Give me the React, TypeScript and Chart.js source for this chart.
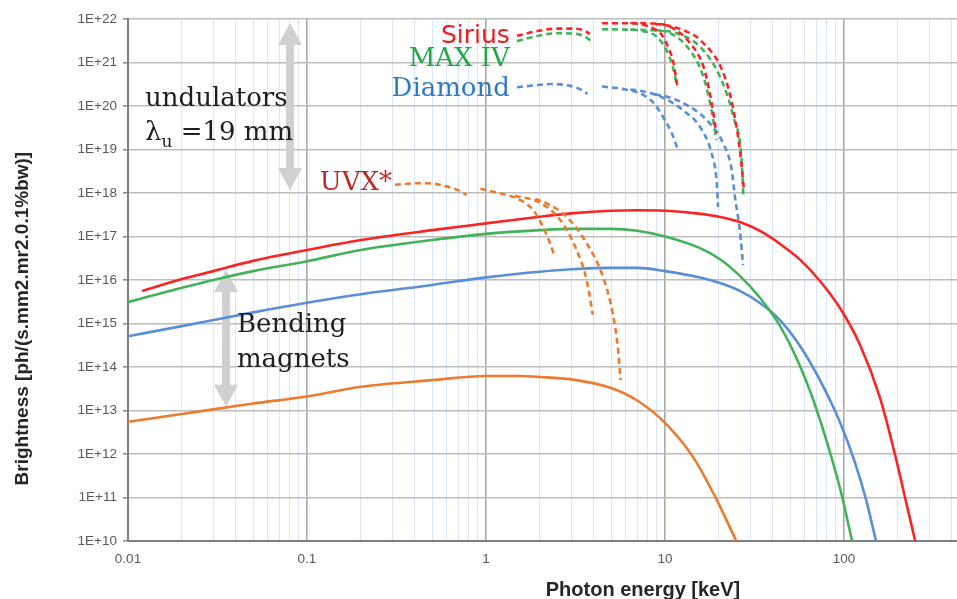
import React, { useEffect, useRef } from 'react';
import { Chart, registerables } from 'chart.js';

Chart.register(...registerables);

type Pt = [number, number];

// ---- Bending-magnet brightness (solid) : [photon energy keV, brightness] ----
const siriusBM: Pt[] = [
  [0.012, 5.6e15], [0.02, 1.05e16], [0.03, 1.6e16], [0.05, 2.75e16], [0.1, 4.9e16], [0.2, 8.3e16],
  [0.5, 1.4e17], [1, 2e17], [2, 2.85e17], [3, 3.4e17], [5, 3.9e17], [7, 4e17], [10, 3.9e17],
  [15, 3.4e17], [20, 2.85e17], [26.2, 2.15e17], [34, 1.34e17], [44, 6.7e16], [57, 2.9e16],
  [73.4, 9.5e15], [95, 2.27e15], [123, 3.2e14], [159, 1.94e13], [193, 9.5e11], [219, 1.03e11], [250, 1e10],
];
const maxivBM: Pt[] = [
  [0.01, 3.1e15], [0.02, 6.6e15], [0.03, 1e16], [0.05, 1.6e16], [0.1, 2.7e16], [0.2, 4.9e16],
  [0.5, 8.3e16], [1, 1.15e17], [2, 1.4e17], [3, 1.5e17], [5, 1.5e17], [7, 1.35e17], [10, 1e17],
  [15.7, 5.4e16], [20.3, 3e16], [26.2, 1.24e16], [33.9, 3.9e15], [43.9, 8.8e14], [56.8, 1.05e14],
  [68.9, 1.34e13], [83.5, 1.1e12], [97.4, 1.08e11], [111, 1e10],
];
const diamondBM: Pt[] = [
  [0.01, 5.1e14], [0.02, 8.7e14], [0.05, 1.8e15], [0.1, 3e15], [0.2, 4.7e15], [0.5, 7.7e15],
  [1, 1.15e16], [2, 1.55e16], [3, 1.76e16], [5, 1.9e16], [7, 1.9e16], [10, 1.6e16], [15.7, 1.14e16],
  [20.3, 8.5e15], [26.2, 5.6e15], [33.9, 2.96e15], [43.9, 1.2e15], [56.8, 3.04e14], [73.4, 5e13],
  [95, 5.4e12], [115, 6.5e11], [133, 8.8e10], [151, 1e10],
];
const uvxBM: Pt[] = [
  [0.01, 5.5e12], [0.02, 8.3e12], [0.05, 1.45e13], [0.1, 2.1e13], [0.2, 3.5e13], [0.5, 5e13],
  [1, 6.2e13], [1.5, 6.2e13], [2, 5.9e13], [3, 5.2e13], [5, 3.3e13], [7, 1.7e13], [10, 5.2e12],
  [14.3, 8.7e11], [19.5, 8.7e10], [25, 1e10],
];

// ---- Undulator tuning curves (dashed) ----
const siriusUndA: Pt[] = [[1.49, 4.1e21], [1.9, 5.2e21], [2.5, 6e21], [3.1, 6e21], [3.55, 5.4e21], [3.8, 4.5e21]];
const siriusUndB1: Pt[] = [[4.45, 8e21], [6, 8e21], [7.25, 7.6e21], [8.6, 6.1e21], [9.6, 4.3e21], [10.4, 2.3e21], [11.05, 1.15e21], [11.5, 4.7e20], [11.7, 3e20]];
const siriusUndB2: Pt[] = [[6.4, 8.1e21], [8.5, 7.9e21], [10.7, 6.6e21], [13.8, 2.8e21], [16.4, 8e20], [17.8, 2e20], [19, 4e19], [19.3, 2.4e19]];
const siriusUndB3: Pt[] = [[8.8, 7.7e21], [10.2, 7.2e21], [13, 5.3e21], [15.7, 3.3e21], [21.1, 6e20], [24, 9e19], [26.2, 9.8e18], [27.6, 1.2e18]];

const maxivUndA: Pt[] = [[1.49, 3.1e21], [1.9, 4e21], [2.5, 4.7e21], [3.1, 4.6e21], [3.55, 4e21], [3.9, 3e21]];
const maxivUndB1: Pt[] = [[4.45, 5.8e21], [6, 5.7e21], [7.25, 5.4e21], [9, 3.9e21], [10.2, 1.9e21], [11.05, 8e20], [11.6, 3.3e20]];
const maxivUndB2: Pt[] = [[6.4, 5.7e21], [8.5, 5.5e21], [10.7, 4.7e21], [13.8, 1.9e21], [16.4, 4.7e20], [18.2, 8e19], [19.4, 1.65e19]];
const maxivUndB3: Pt[] = [[8.8, 5.6e21], [11.6, 4.7e21], [15.7, 2.3e21], [20.3, 4.7e20], [24.1, 5.7e19], [26.8, 5.7e18], [27.4, 8.2e17]];

const diamondUndA: Pt[] = [[1.49, 2.7e20], [1.88, 3e20], [2.37, 3.2e20], [2.95, 2.9e20], [3.35, 2.45e20], [3.7, 1.9e20]];
const diamondUndB1: Pt[] = [[4.45, 2.8e20], [6, 2.4e20], [7.25, 1.95e20], [8.6, 1.2e20], [9.75, 5.6e19], [10.9, 2.4e19], [11.7, 1.1e19]];
const diamondUndB2: Pt[] = [[6.4, 2.4e20], [7.25, 2.25e20], [9.75, 1.55e20], [12.6, 8e19], [15.7, 3.3e19], [18.2, 8.3e18], [19.4, 2e18], [19.8, 4.8e17]];
const diamondUndB3: Pt[] = [[8.8, 1.85e20], [10.2, 1.65e20], [13.8, 9.6e19], [17.8, 4e19], [21.1, 1.4e19], [23.6, 3.4e18], [24.6, 8e17], [26.2, 1.4e17], [27.3, 2.2e16]];

const uvxUndA: Pt[] = [[0.31, 1.55e18], [0.43, 1.68e18], [0.5, 1.65e18], [0.6, 1.42e18], [0.7, 1.15e18], [0.78, 9e17]];
const uvxUndB1: Pt[] = [[0.93, 1.25e18], [1.2, 9.8e17], [1.49, 7.5e17], [1.83, 4.1e17], [2.08, 1.7e17], [2.28, 7e16], [2.4, 3.8e16]];
const uvxUndB2: Pt[] = [[1.45, 8.6e17], [2, 6e17], [2.6, 2.4e17], [3.2, 5e16], [3.65, 1e16], [3.95, 1.6e15]];
const uvxUndB3: Pt[] = [[1.88, 7.3e17], [2.18, 5.8e17], [2.82, 2.85e17], [3.65, 7e16], [4.5, 1.2e16], [5.1, 1.75e15], [5.45, 2.9e14], [5.65, 5e13]];

// ---- Axes ----
const xDecades = [0.01, 0.1, 1, 10, 100];
const xTickLabels = ['0.01', '0.1', '1', '10', '100'];
const yDecades = [1e10, 1e11, 1e12, 1e13, 1e14, 1e15, 1e16, 1e17, 1e18, 1e19, 1e20, 1e21, 1e22];
const yTickLabels = ['1E+10', '1E+11', '1E+12', '1E+13', '1E+14', '1E+15', '1E+16', '1E+17', '1E+18', '1E+19', '1E+20', '1E+21', '1E+22'];
const X_MIN = 0.01;
const X_MAX = 428;
const Y_MIN = 1e10;
const Y_MAX = 1e22;
const xTitle = 'Photon energy [keV]';
const yTitle = 'Brightness [ph/(s.mm2.mr2.0.1%bw)]';

// ---- Styles ----
const RED = '#fb2424';
const GREEN = '#42b35b';
const BLUE = '#5a8ed6';
const ORANGE = '#eb7b2e';
const SERIF = '"DejaVu Serif", "Liberation Serif", serif';

// ---- Annotations (data coordinates) ----
const textLabels = [
  { text: 'Sirius', x: 1.36, y: 2.8e21, color: '#f01d1d', font: `25px "DejaVu Sans", sans-serif`, align: 'right' },
  { text: 'MAX IV', x: 1.36, y: 8.3e20, color: '#21a64a', font: `26px ${SERIF}`, align: 'right' },
  { text: 'Diamond', x: 1.36, y: 1.73e20, color: '#2f79c9', font: `26px ${SERIF}`, align: 'right' },
  { text: 'UVX*', x: 0.118, y: 1.17e18, color: '#b82a2a', font: `26px ${SERIF}`, align: 'left' },
  { text: 'undulators', x: 0.01245, y: 1e20, color: '#1e1e1e', font: `26px ${SERIF}`, align: 'left' },
  { text: 'Bending', x: 0.0406, y: 6.4e14, color: '#1e1e1e', font: `26px ${SERIF}`, align: 'left' },
  { text: 'magnets', x: 0.0406, y: 1e14, color: '#1e1e1e', font: `26px ${SERIF}`, align: 'left' },
];
const lambdaLabel = { x: 0.01245, y: 1.65e19 };
const arrows = [
  { x: 0.0804, yTop: 8.1e21, yBottom: 1.17e18 },
  { x: 0.0353, yTop: 1.7e16, yBottom: 1.22e13 },
];

const xGridTicks: number[] = (() => {
  const out: number[] = [];
  for (const d of xDecades) {
    for (let m = 1; m <= 9; m++) {
      const v = m === 1 ? d : parseFloat((m * d).toPrecision(6));
      if (v <= X_MAX) out.push(v);
    }
  }
  return out;
})();

function mk(data: Pt[], color: string, dashed: boolean) {
  return {
    data: data.map(([x, y]) => ({ x, y })),
    borderColor: color,
    backgroundColor: color,
    borderWidth: 2.6,
    borderDash: dashed ? [6, 4] : [],
    showLine: true,
    pointRadius: 0,
    pointHoverRadius: 0,
    fill: false,
    cubicInterpolationMode: 'monotone' as const,
  };
}

const annotationPlugin = {
  id: 'annot',
  beforeDatasetsDraw(chart: any) {
    const { ctx, scales } = chart;
    ctx.save();
    ctx.fillStyle = '#d0d0d0';
    for (const a of arrows) {
      const cx = scales.x.getPixelForValue(a.x);
      const t = scales.y.getPixelForValue(a.yTop);
      const b = scales.y.getPixelForValue(a.yBottom);
      const hw = 12, sw = 4, hl = 22;
      ctx.beginPath();
      ctx.moveTo(cx, t);
      ctx.lineTo(cx + hw, t + hl);
      ctx.lineTo(cx + sw, t + hl);
      ctx.lineTo(cx + sw, b - hl);
      ctx.lineTo(cx + hw, b - hl);
      ctx.lineTo(cx, b);
      ctx.lineTo(cx - hw, b - hl);
      ctx.lineTo(cx - sw, b - hl);
      ctx.lineTo(cx - sw, t + hl);
      ctx.lineTo(cx - hw, t + hl);
      ctx.closePath();
      ctx.fill();
    }
    ctx.restore();
  },
  afterDatasetsDraw(chart: any) {
    const { ctx, scales } = chart;
    ctx.save();
    ctx.textBaseline = 'alphabetic';
    for (const l of textLabels) {
      ctx.font = l.font;
      ctx.fillStyle = l.color;
      ctx.textAlign = l.align;
      ctx.fillText(l.text, scales.x.getPixelForValue(l.x), scales.y.getPixelForValue(l.y));
    }
    let px = scales.x.getPixelForValue(lambdaLabel.x);
    const py = scales.y.getPixelForValue(lambdaLabel.y);
    ctx.textAlign = 'left';
    ctx.fillStyle = '#1e1e1e';
    ctx.font = `26px ${SERIF}`;
    ctx.fillText('λ', px, py);
    px += ctx.measureText('λ').width;
    ctx.font = `17px ${SERIF}`;
    ctx.fillText('u', px, py + 7);
    px += ctx.measureText('u').width;
    ctx.font = `26px ${SERIF}`;
    ctx.fillText(' =19 mm', px, py);
    ctx.restore();
  },
  afterDraw(chart: any) {
    const { ctx, chartArea } = chart;
    ctx.save();
    ctx.fillStyle = '#262626';
    ctx.font = 'bold 20px "Liberation Sans", Arial, sans-serif';
    ctx.textAlign = 'center';
    ctx.textBaseline = 'alphabetic';
    ctx.fillText(xTitle, 643, chart.height - 3);
    ctx.font = 'bold 19px "Liberation Sans", Arial, sans-serif';
    ctx.translate(28, chartArea.top + 0.574 * (chartArea.bottom - chartArea.top));
    ctx.rotate(-Math.PI / 2);
    ctx.fillText(yTitle, 0, 0);
    ctx.restore();
  },
};

export default function App() {
  const ref = useRef<HTMLCanvasElement>(null);
  useEffect(() => {
    const canvas = ref.current!;
    const datasets = [
      mk(uvxUndA, ORANGE, true), mk(uvxUndB1, ORANGE, true), mk(uvxUndB2, ORANGE, true), mk(uvxUndB3, ORANGE, true),
      mk(siriusUndA, RED, true), mk(siriusUndB1, RED, true), mk(siriusUndB2, RED, true), mk(siriusUndB3, RED, true),
      mk(maxivUndA, GREEN, true), mk(maxivUndB1, GREEN, true), mk(maxivUndB2, GREEN, true), mk(maxivUndB3, GREEN, true),
      mk(diamondUndA, BLUE, true), mk(diamondUndB1, BLUE, true), mk(diamondUndB2, BLUE, true), mk(diamondUndB3, BLUE, true),
      mk(siriusBM, RED, false), mk(maxivBM, GREEN, false), mk(diamondBM, BLUE, false), mk(uvxBM, ORANGE, false),
    ];
    const tickFont = { family: '"Liberation Sans", Arial, sans-serif', size: 13.5 };
    const chart = new Chart(canvas, {
      type: 'scatter',
      data: { datasets: datasets as any },
      options: {
        responsive: false,
        animation: false,
        devicePixelRatio: 1,
        events: [],
        layout: { autoPadding: false, padding: { top: 19, right: 0, bottom: 0, left: 0 } },
        plugins: { legend: { display: false }, tooltip: { enabled: false } },
        scales: {
          x: {
            type: 'logarithmic',
            min: X_MIN,
            max: X_MAX,
            afterBuildTicks: (s: any) => {
              s.ticks = xGridTicks.map((v) => ({ value: v }));
            },
            afterFit: (s: any) => {
              s.height = 58;
              s.paddingRight = 0;
            },
            grid: {
              color: (c: any) => (xDecades.includes(c.tick?.value) ? '#a8a8a8' : '#d9e6f8'),
              lineWidth: (c: any) => (xDecades.includes(c.tick?.value) ? 1.6 : 1),
              drawTicks: true,
              tickLength: 10,
              tickColor: 'rgba(0,0,0,0)',
            },
            border: { color: '#7f7f7f', width: 2 },
            ticks: {
              autoSkip: false,
              maxRotation: 0,
              minRotation: 0,
              padding: 0,
              color: '#595959',
              font: tickFont,
              callback: (v: any) => {
                const i = xDecades.indexOf(Number(v));
                return i >= 0 ? xTickLabels[i] : '';
              },
            },
          } as any,
          y: {
            type: 'logarithmic',
            min: Y_MIN,
            max: Y_MAX,
            afterBuildTicks: (s: any) => {
              s.ticks = yDecades.map((v) => ({ value: v }));
            },
            afterFit: (s: any) => {
              s.width = 128;
            },
            grid: { color: '#bdbdbd', lineWidth: 1.6, tickLength: 5, tickColor: '#8c8c8c' },
            border: { color: '#7f7f7f', width: 2 },
            ticks: {
              autoSkip: false,
              padding: 6,
              color: '#595959',
              font: tickFont,
              callback: (v: any) => {
                const i = yDecades.indexOf(Number(v));
                return i >= 0 ? yTickLabels[i] : '';
              },
            },
          } as any,
        },
      },
      plugins: [annotationPlugin as any],
    });
    return () => chart.destroy();
  }, []);
  return (
    <div style={{ position: 'fixed', left: 0, top: 0, width: 957, height: 599, background: '#fff' }}>
      <canvas ref={ref} width={957} height={599} style={{ display: 'block' }} />
    </div>
  );
}
